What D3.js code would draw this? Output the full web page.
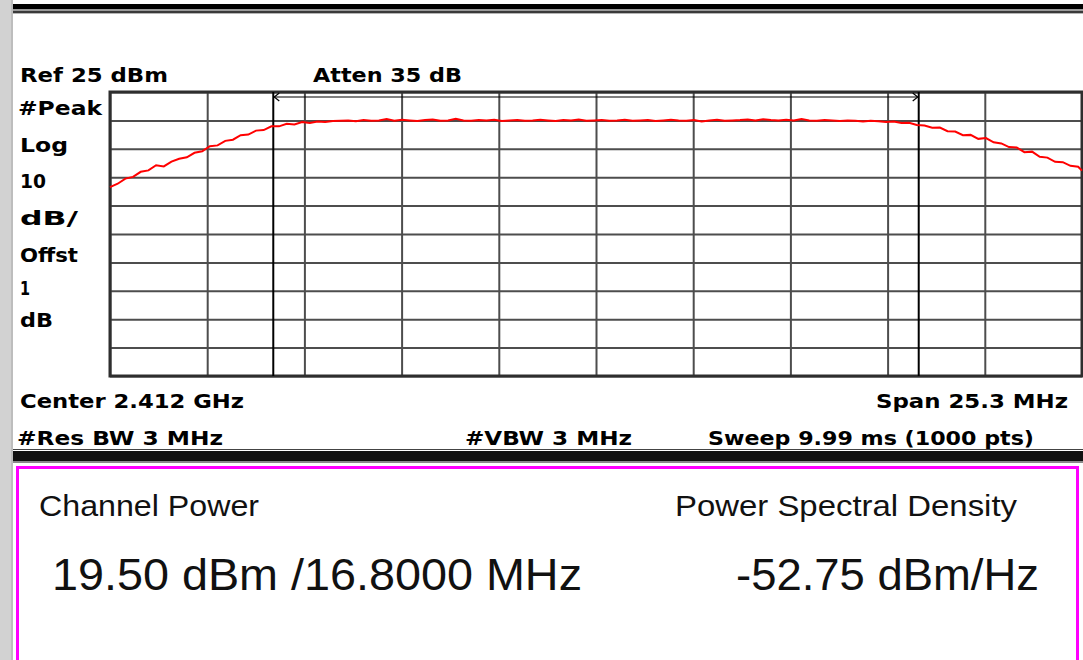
<!DOCTYPE html>
<html>
<head>
<meta charset="utf-8">
<script src="https://cdn.jsdelivr.net/npm/d3@7"></script>
<style>
  body { margin: 0; background: #ffffff; }
  svg { display: block; }
</style>
</head>
<body>
<div id="wrapper"></div>
<script>
// trace: offset from centre (MHz) and level (dBm)
const freqOffset = [
  -12.65, -12.45, -12.25, -12.05, -11.85, -11.65, -11.45, -11.25, -11.05, -10.85,
  -10.65, -10.45, -10.25, -10.05, -9.85, -9.65, -9.45, -9.25, -9.05, -8.85,
  -8.65, -8.45, -8.25, -8.05, -7.85, -7.65, -7.45, -7.25, -7.05, -6.85,
  -6.65, -6.45, -6.25, -6.05, -5.85, -5.65, -5.45, -5.25, -5.05, -4.85,
  -4.65, -4.45, -4.25, -4.05, -3.85, -3.65, -3.45, -3.25, -3.05, -2.85,
  -2.65, -2.45, -2.25, -2.05, -1.85, -1.65, -1.45, -1.25, -1.05, -0.85,
  -0.65, -0.45, -0.25, -0.05, 0.15, 0.35, 0.55, 0.75, 0.95, 1.15,
  1.35, 1.55, 1.75, 1.95, 2.15, 2.35, 2.55, 2.75, 2.95, 3.15,
  3.35, 3.55, 3.75, 3.95, 4.15, 4.35, 4.55, 4.75, 4.95, 5.15,
  5.35, 5.55, 5.75, 5.95, 6.15, 6.35, 6.55, 6.75, 6.95, 7.15,
  7.35, 7.55, 7.75, 7.95, 8.15, 8.35, 8.55, 8.75, 8.95, 9.15,
  9.35, 9.55, 9.75, 9.95, 10.15, 10.35, 10.55, 10.75, 10.95, 11.15,
  11.35, 11.55, 11.75, 11.95, 12.15, 12.35, 12.55, 12.65];
const levelDbm = [
  -8.5, -7.3, -5.5, -4.9, -3.1, -2.6, -0.8, -1.2, 0.5, 1.5,
  2.0, 3.6, 4.1, 5.9, 6.2, 7.8, 8.2, 9.8, 10.0, 11.4,
  11.6, 12.9, 12.9, 13.8, 13.6, 14.4, 14.1, 14.6, 14.4, 14.8,
  14.9, 15.0, 14.7, 15.1, 14.9, 15.0, 15.5, 14.9, 15.2, 15.0,
  14.8, 15.1, 15.3, 14.9, 15.0, 15.6, 15.0, 14.9, 15.1, 15.0,
  15.2, 14.8, 15.0, 15.1, 14.9, 15.0, 15.2, 15.0, 14.8, 15.1,
  15.0, 15.3, 14.9, 15.0, 15.1, 14.9, 15.0, 15.2, 14.9, 15.0,
  15.1, 14.8, 15.0, 15.2, 15.0, 14.9, 15.1, 14.6, 15.0, 15.2,
  14.9, 15.0, 15.1, 15.3, 15.0, 15.4, 15.1, 15.0, 15.2, 15.0,
  15.5, 15.0, 14.9, 15.1, 15.0, 14.8, 15.0, 14.9, 14.6, 14.9,
  14.7, 14.4, 14.6, 14.1, 14.2, 13.4, 13.2, 12.4, 12.5, 11.2,
  11.1, 9.8, 9.9, 8.5, 8.8, 7.3, 6.9, 5.6, 5.5, 3.8,
  4.0, 2.2, 1.9, 0.4, 0.3, -1.0, -1.3, -2.7];

const refLevel = 25;
const dbPerDiv = 10;
const spanMHz = 25.3;
const channelBwMHz = 16.8;
const divisions = 10;

const headerLabels = ["Ref 25 dBm", "Atten 35 dB"];
const sideLabels = ["#Peak", "Log", "10", "dB/", "Offst", "1", "dB"];
const footerLabels = ["Center 2.412 GHz", "Span 25.3 MHz", "#Res BW 3 MHz", "#VBW 3 MHz", "Sweep 9.99 ms (1000 pts)"];
const resultTitles = ["Channel Power", "Power Spectral Density"];
const resultValues = ["19.50 dBm /16.8000 MHz", "-52.75 dBm/Hz"];

// layout
const dimensions = { width: 1083, height: 660 };
const plot = { left: 110, right: 1082, top: 92, bottom: 376 };

const svg = d3.select("#wrapper").append("svg")
  .attr("width", dimensions.width)
  .attr("height", dimensions.height);

const xScale = d3.scaleLinear().domain([-spanMHz / 2, spanMHz / 2]).range([plot.left, plot.right]);
const yScale = d3.scaleLinear().domain([refLevel - dbPerDiv * divisions, refLevel]).range([plot.bottom, plot.top]);

// window chrome
svg.append("rect").attr("x", 0).attr("y", 0).attr("width", 13).attr("height", dimensions.height).attr("fill", "#d2d2d2");
svg.append("rect").attr("x", 11).attr("y", 0).attr("width", 2).attr("height", dimensions.height).attr("fill", "#bdbdbd");
svg.append("rect").attr("x", 13).attr("y", 4).attr("width", 1070).attr("height", 5).attr("fill", "#000");
svg.append("rect").attr("x", 13).attr("y", 9).attr("width", 1070).attr("height", 2).attr("fill", "#9a9a9a");
svg.append("rect").attr("x", 13).attr("y", 11).attr("width", 1070).attr("height", 2).attr("fill", "#3a3a3a");
svg.append("rect").attr("x", 13).attr("y", 13).attr("width", 1070).attr("height", 1).attr("fill", "#b5b5b5");

svg.append("rect").attr("x", 13).attr("y", 449).attr("width", 1070).attr("height", 1).attr("fill", "#444");
svg.append("rect").attr("x", 13).attr("y", 451).attr("width", 1070).attr("height", 10).attr("fill", "#111");
svg.append("rect").attr("x", 13).attr("y", 461).attr("width", 1070).attr("height", 2).attr("fill", "#8a8a8a");

svg.append("rect")
  .attr("x", 17.5).attr("y", 467.5)
  .attr("width", 1060).attr("height", 260)
  .attr("fill", "none").attr("stroke", "#ff00ff").attr("stroke-width", 3);

// graticule
const xTicks = d3.range(divisions + 1).map(i => xScale.domain()[0] + i * spanMHz / divisions);
const yTicks = d3.range(divisions + 1).map(i => yScale.domain()[0] + i * dbPerDiv);

const gridX = d3.axisBottom(xScale).tickValues(xTicks).tickSize(-(plot.bottom - plot.top)).tickFormat("");
const gridY = d3.axisLeft(yScale).tickValues(yTicks).tickSize(-(plot.right - plot.left)).tickFormat("");

svg.append("g").attr("transform", `translate(0, ${plot.bottom})`).call(gridX)
  .call(g => g.select(".domain").remove())
  .selectAll("line").attr("stroke", "#4d4d4d").attr("stroke-width", 2);
svg.append("g").attr("transform", `translate(${plot.left}, 0)`).call(gridY)
  .call(g => g.select(".domain").remove())
  .selectAll("line").attr("stroke", "#4d4d4d").attr("stroke-width", 2);

svg.append("rect")
  .attr("x", plot.left).attr("y", plot.top)
  .attr("width", plot.right - plot.left).attr("height", plot.bottom - plot.top)
  .attr("fill", "none").attr("stroke", "#2e2e2e").attr("stroke-width", 3);

// channel bandwidth markers
const chanEdges = [-channelBwMHz / 2, channelBwMHz / 2];
svg.selectAll(".chan")
  .data(chanEdges)
  .enter()
  .append("line")
  .attr("class", "chan")
  .attr("x1", d => xScale(d)).attr("x2", d => xScale(d))
  .attr("y1", plot.top).attr("y2", plot.bottom)
  .attr("stroke", "#000").attr("stroke-width", 2);

const arrowY = plot.top + 5;
svg.append("line")
  .attr("x1", xScale(chanEdges[0])).attr("x2", xScale(chanEdges[1]))
  .attr("y1", arrowY).attr("y2", arrowY)
  .attr("stroke", "#000").attr("stroke-width", 1.2);
svg.append("path")
  .attr("d", `M${xScale(chanEdges[0]) + 6},${arrowY - 4} L${xScale(chanEdges[0]) + 1},${arrowY} L${xScale(chanEdges[0]) + 6},${arrowY + 4}`)
  .attr("fill", "none").attr("stroke", "#000").attr("stroke-width", 1.2);
svg.append("path")
  .attr("d", `M${xScale(chanEdges[1]) - 6},${arrowY - 4} L${xScale(chanEdges[1]) - 1},${arrowY} L${xScale(chanEdges[1]) - 6},${arrowY + 4}`)
  .attr("fill", "none").attr("stroke", "#000").attr("stroke-width", 1.2);

// trace
const trace = freqOffset.map((f, i) => ({ f: f, v: levelDbm[i] }));
svg.append("path")
  .datum(trace)
  .attr("fill", "none")
  .attr("stroke", "#ff0000")
  .attr("stroke-width", 2)
  .attr("d", d3.line().x(d => xScale(d.f)).y(d => yScale(d.v)));

// annotation text
const boldFont = "'DejaVu Sans', Verdana, sans-serif";
const plainFont = "'Liberation Sans', Arial, sans-serif";

function label(text, x, y, w, size, bold) {
  svg.append("text")
    .attr("x", x).attr("y", y)
    .attr("textLength", w).attr("lengthAdjust", "spacingAndGlyphs")
    .style("font-family", bold ? boldFont : plainFont)
    .style("font-weight", bold ? "bold" : "normal")
    .style("font-size", size + "px")
    .attr("fill", bold ? "#000" : "#111")
    .text(text);
}

label(headerLabels[0], 20, 82, 148, 20, true);
label(headerLabels[1], 313, 82, 149, 20, true);

const sidePos = [[18, 115, 84], [20, 152, 48], [20, 188, 26], [20, 225, 58], [20, 262, 58], [20, 295, 10], [20, 327, 33]];
sideLabels.forEach((t, i) => label(t, sidePos[i][0], sidePos[i][1], sidePos[i][2], 20, true));

const footPos = [[20, 408, 224], [876, 408, 192], [17, 445, 206], [465, 445, 167], [708, 445, 326]];
footerLabels.forEach((t, i) => label(t, footPos[i][0], footPos[i][1], footPos[i][2], 20, true));

label(resultTitles[0], 39, 516, 220, 29, false);
label(resultTitles[1], 675, 516, 342, 29, false);
label(resultValues[0], 52, 590, 530, 45, false);
label(resultValues[1], 736, 590, 303, 45, false);
</script>
</body>
</html>
